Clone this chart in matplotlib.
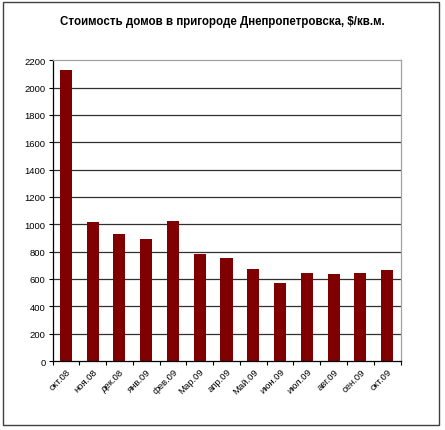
import matplotlib
matplotlib.use("Agg")
import matplotlib.pyplot as plt
from matplotlib.patches import Rectangle

plt.rcParams['font.family'] = ['Liberation Sans', 'DejaVu Sans']

months = ["окт.08", "ноя.08", "дек.08", "янв.09", "фев.09", "Мар.09", "апр.09",
          "Май.09", "июн.09", "июл.09", "авг.09", "сен.09", "окт.09"]
prices = [2130, 1015, 927, 890, 1027, 785, 753, 676, 572, 647, 640, 647, 664]
yticks = list(range(0, 2201, 200))
title = "Стоимость домов в пригороде Днепропетровска, $/кв.м."

fig = plt.figure(figsize=(4.45, 4.31), dpi=100)
fig.patches.append(Rectangle((0.0067, 0.0116), 0.98, 0.981, transform=fig.transFigure,
                             fill=False, edgecolor='#404040', linewidth=1.0))
ax = fig.add_axes([0.118, 0.160, 0.782, 0.698])

x = range(len(months))
for yv in yticks[1:-1]:
    ax.axhline(yv, color='#303030', linewidth=0.9, zorder=1)
ax.bar(x, prices, width=0.45, color='#800000', zorder=2)

ax.set_xlim(-0.5, len(months) - 0.5)
ax.set_ylim(0, 2200)
ax.set_yticks(yticks)
ax.set_yticklabels([str(v) for v in yticks], fontsize=6.8)
ax.set_xticks([i + 0.5 for i in range(-1, len(months))], minor=False)
ax.set_xticklabels([])
ax.set_xticks(list(x), minor=True)
ax.set_xticklabels(months, minor=True, rotation=45, ha='right', rotation_mode='anchor', fontsize=6.8)
ax.tick_params(axis='x', which='minor', length=0, pad=4)
ax.tick_params(axis='x', which='major', length=3, direction='out', color='black')
ax.tick_params(axis='y', length=3, direction='out', color='black', pad=2)

ax.spines['left'].set_color('black')
ax.spines['bottom'].set_color('black')
ax.spines['top'].set_color('#a0a0a0')
ax.spines['right'].set_color('#a0a0a0')
for s in ax.spines.values():
    s.set_linewidth(0.9)

fig.text(0.5, 0.949, title, ha='center', va='center', fontsize=8.3, fontweight='bold')

fig.savefig("out.png", dpi=100)
